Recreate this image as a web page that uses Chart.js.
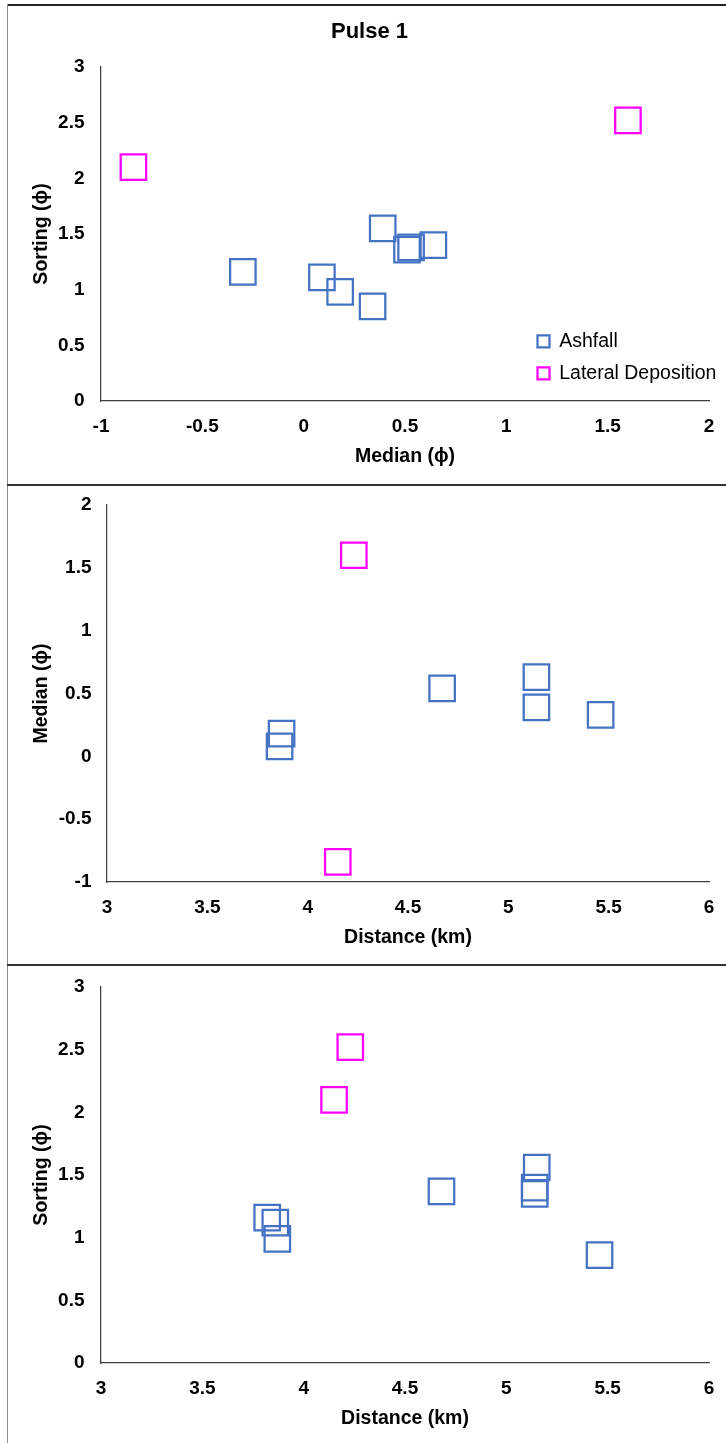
<!DOCTYPE html>
<html>
<head>
<meta charset="utf-8">
<script src="https://cdn.jsdelivr.net/npm/chart.js@4.4.1/dist/chart.umd.min.js"></script>
<style>
  body { margin: 0; background: #fff; }
  #frame { position: relative; width: 726px; height: 1443px; overflow: hidden; }
  .line { position: absolute; }
  canvas { position: absolute; left: 8px; }
</style>
</head>
<body>
<div id="frame">
  <div class="line" style="left:7px;top:4px;width:719px;height:2px;background:#222"></div>
  <div class="line" style="left:7px;top:4px;width:1px;height:1439px;background:#8c8c8c"></div>
  <div class="line" style="left:7px;top:484px;width:719px;height:2px;background:#333"></div>
  <div class="line" style="left:7px;top:964px;width:719px;height:2px;background:#333"></div>
  <canvas id="pulseSortMed" width="718" height="478" style="top:6px"></canvas>
  <canvas id="pulseMedDist" width="718" height="478" style="top:486px"></canvas>
  <canvas id="pulseSortDist" width="718" height="477" style="top:966px"></canvas>
</div>
<script>
// DATA
// panel 1 : median vs sorting
const ashfallMedian  = [-0.30, 0.09, 0.18, 0.34, 0.39, 0.51, 0.53, 0.64];
const ashfallSorting = [1.16, 1.11, 0.98, 0.85, 1.55, 1.36, 1.38, 1.40];
const lateralMedian  = [-0.84, 1.60];
const lateralSorting = [2.10, 2.52];

// panel 2 : distance vs median
const ashfallDistM = [3.87, 3.86, 4.67, 5.14, 5.14, 5.46];
const ashfallMedM  = [0.18, 0.08, 0.54, 0.63, 0.39, 0.33];
const lateralDistM = [4.15, 4.23];
const lateralMedM  = [-0.84, 1.60];

// panel 3 : distance vs sorting
const ashfallDistS = [3.82, 3.86, 3.87, 4.68, 5.15, 5.14, 5.14, 5.46];
const ashfallSortS = [1.16, 1.12, 0.99, 1.37, 1.56, 1.40, 1.35, 0.86];
const lateralDistS = [4.15, 4.23];
const lateralSortS = [2.10, 2.52];

// tick labels
const medianTicks   = [-1, -0.5, 0, 0.5, 1, 1.5, 2];
const sortingTicks  = [0, 0.5, 1, 1.5, 2, 2.5, 3];
const distanceTicks = [3, 3.5, 4, 4.5, 5, 5.5, 6];

const BLUE = '#4472C4';
const PINK = '#FF00FF';
const FONT = "'Liberation Sans', Arial, sans-serif";

const toPoints = (xs, ys) => xs.map((x, i) => ({x: x, y: ys[i]}));

function series(label, xs, ys, color) {
	return {
		label: label,
		data: toPoints(xs, ys),
		pointStyle: 'rect',
		pointRadius: 18,
		pointHoverRadius: 18,
		borderWidth: 2.25,
		borderColor: color,
		backgroundColor: 'rgba(0,0,0,0)'
	};
}

// move the legend box to a fixed place inside the plot
const legendPlace = {
	id: 'legendPlace',
	afterLayout(chart, args, opts) {
		const lg = chart.legend;
		if (!lg || !opts || opts.left === undefined) return;
		lg.left = opts.left;
		lg.top = opts.top;
		lg.right = opts.left + lg.width;
		lg.bottom = opts.top + lg.height;
	}
};

function axis(ticks, title, cfg) {
	return {
		type: 'linear',
		min: ticks[0],
		max: ticks[ticks.length - 1],
		afterBuildTicks: s => { s.ticks = ticks.map(v => ({value: v})); },
		afterFit: s => {
			if (cfg.width) s.width = cfg.width;
			if (cfg.height) s.height = cfg.height;
			s.paddingLeft = s.paddingRight = s.paddingTop = s.paddingBottom = 0;
		},
		grid: { display: false, drawTicks: false },
		border: { display: true, color: '#404040', width: 1.25 },
		ticks: {
			color: '#000',
			padding: cfg.tickPad,
			callback: v => String(v),
			font: { family: FONT, size: 19, weight: 'bold' }
		},
		title: {
			display: true,
			text: title,
			color: '#000',
			padding: cfg.titlePad,
			font: { family: FONT, size: 19.5, weight: 'bold' }
		}
	};
}

function makeChart(id, datasets, xAxis, yAxis, extra) {
	return new Chart(document.getElementById(id), {
		type: 'scatter',
		data: { datasets: datasets },
		plugins: [legendPlace],
		options: {
			responsive: false,
			animation: false,
			layout: {
				autoPadding: false,
				padding: { top: extra.top, right: 17, left: extra.left || 0, bottom: 0 }
			},
			scales: { x: xAxis, y: yAxis },
			plugins: {
				tooltip: { enabled: false },
				title: extra.title || { display: false },
				legend: extra.legend || { display: false },
				legendPlace: extra.place || {}
			}
		}
	});
}

// PANEL 1
makeChart('pulseSortMed',
	[series('Ashfall', ashfallMedian, ashfallSorting, BLUE),
	 series('Lateral Deposition', lateralMedian, lateralSorting, PINK)],
	axis(medianTicks, 'Median (ϕ)', {height: 83, tickPad: 14.5, titlePad: {top: 0, bottom: 15.5}}),
	axis(sortingTicks, 'Sorting (ϕ)', {width: 71, tickPad: 16.5, titlePad: {top: 0, bottom: 0}}),
	{
		top: 0,
		left: 22,
		title: {
			display: true,
			text: 'Pulse 1',
			color: '#000',
			padding: { top: 12.8, bottom: 21.8 },
			font: { family: FONT, size: 22, weight: 'bold' }
		},
		legend: {
			display: true,
			position: 'chartArea',
			align: 'start',
			labels: {
				usePointStyle: true,
				boxWidth: 12,
				boxHeight: 12,
				padding: 12.5,
				color: '#000',
				font: { family: FONT, size: 19.5 }
			}
		},
		place: { left: 517, top: 313 }
	});

// PANEL 2
makeChart('pulseMedDist',
	[series('Ashfall', ashfallDistM, ashfallMedM, BLUE),
	 series('Lateral Deposition', lateralDistM, lateralMedM, PINK)],
	axis(distanceTicks, 'Distance (km)', {height: 82, tickPad: 14.5, titlePad: {top: 0, bottom: 14.5}}),
	axis(medianTicks, 'Median (ϕ)', {width: 99, tickPad: 15.5, titlePad: {top: 21.5, bottom: 0}}),
	{ top: 19 });

// PANEL 3
makeChart('pulseSortDist',
	[series('Ashfall', ashfallDistS, ashfallSortS, BLUE),
	 series('Lateral Deposition', lateralDistS, lateralSortS, PINK)],
	axis(distanceTicks, 'Distance (km)', {height: 80, tickPad: 14.5, titlePad: {top: 0, bottom: 12.5}}),
	axis(sortingTicks, 'Sorting (ϕ)', {width: 93, tickPad: 16.5, titlePad: {top: 21.5, bottom: 0}}),
	{ top: 21 });
</script>
</body>
</html>
